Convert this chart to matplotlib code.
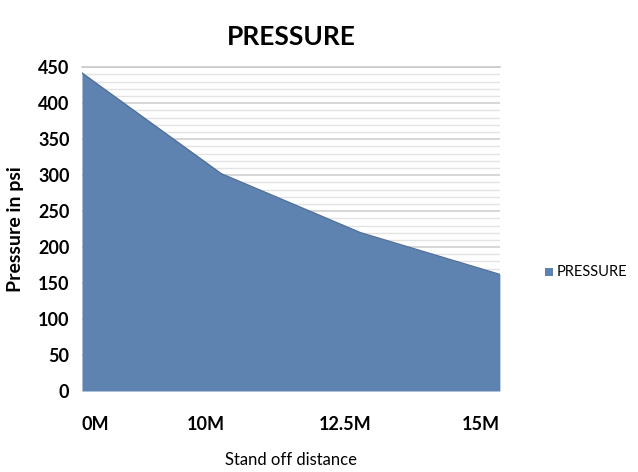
import matplotlib
matplotlib.use("Agg")
import matplotlib.pyplot as plt
import matplotlib.transforms as mtransforms
from matplotlib.patches import Rectangle
import numpy as np

# Pressure vs stand-off distance
categories = ["0M", "10M", "12.5M", "15M"]
pressure = [442, 302, 220, 162]

y_ticks = [0, 50, 100, 150, 200, 250, 300, 350, 400, 450]

plt.rcParams["font.family"] = ["Lato", "DejaVu Sans"]

fig = plt.figure(figsize=(6.38, 4.72), dpi=100)
ax = fig.add_axes([0.1285, 0.1716, 0.655, 0.686])

area_color = "#5f83b1"
x = np.arange(len(categories))
ax.fill_between(x, pressure, 0, color=area_color, linewidth=0, zorder=3)
ax.plot(x, pressure, color="#4d6f99", linewidth=1.0, zorder=4)

ax.set_xlim(0, len(categories) - 1)
ax.set_ylim(0, 450)

# dense horizontal gridlines
ax.set_yticks(y_ticks)
ax.set_yticks(np.arange(0, 451, 10), minor=True)
ax.grid(axis="y", which="minor", color="#e3e3e3", linewidth=1.0, zorder=1)
ax.grid(axis="y", which="major", color="#cfcfcf", linewidth=1.2, zorder=2)
ax.grid(axis="x", visible=False)

for s in ["left", "right", "bottom"]:
    ax.spines[s].set_visible(False)
ax.spines["top"].set_color("#c8c8c8")
ax.spines["top"].set_linewidth(1.2)

ax.tick_params(axis="both", which="both", length=0)
ax.tick_params(axis="y", pad=9)
ax.tick_params(axis="x", pad=18)
ax.set_yticklabels([str(v) for v in y_ticks], fontsize=13, fontweight="bold")

ax.set_xticks(x)
ax.set_xticklabels(categories, fontsize=13, fontweight="bold")
labels = ax.get_xticklabels()
labels[0].set_ha("left")
labels[-1].set_ha("right")
for lab in labels[1:-1]:
    lab.set_transform(lab.get_transform() +
                      mtransforms.ScaledTranslation(-15 / 100, 0, fig.dpi_scale_trans))

ax.set_xlabel("Stand off distance", fontsize=12, labelpad=14)
ax.set_ylabel("Pressure in psi", fontsize=14, fontweight="bold", labelpad=10)
ax.set_title("PRESSURE", fontsize=19, fontweight="bold", pad=16)

# legend entry to the right of the plot
fig.patches.append(Rectangle((545 / 638, 1 - 276 / 472), 8 / 638, 8 / 472,
                             transform=fig.transFigure, facecolor=area_color,
                             edgecolor="none"))
fig.text(557 / 638, 1 - 272 / 472, "PRESSURE", fontsize=10.5, va="center", ha="left")

fig.savefig("out.png", dpi=100, facecolor="white")
